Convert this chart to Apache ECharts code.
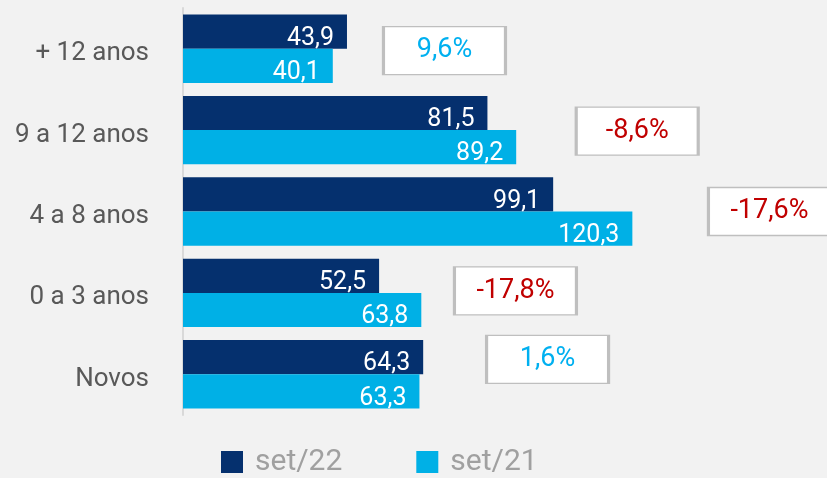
<!DOCTYPE html>
<html>
<head>
<meta charset="utf-8">
<script src="https://cdn.jsdelivr.net/npm/echarts@6/dist/echarts.min.js"></script>
<style>
  html, body { margin: 0; padding: 0; background: #f2f2f2; }
  #chart { width: 827px; height: 478px; }
</style>
</head>
<body>
<div id="chart"></div>
<script>
const categories = ['+ 12 anos', '9 a 12 anos', '4 a 8 anos', '0 a 3 anos', 'Novos'];
const seriesNames = ['set/22', 'set/21'];
const set22 = [43.9, 81.5, 99.1, 52.5, 64.3];
const set21 = [40.1, 89.2, 120.3, 63.8, 63.3];
const changePct = [9.6, -8.6, -17.6, -17.8, 1.6];

const fmt = v => v.toFixed(1).replace('.', ',');
const FONT = 'Roboto';

// annotation box placement (x in axis units, y offset in px)
const boxPlacement = [
  { x: 70.0, dy: 2 },
  { x: 121.6, dy: 1 },
  { x: 157.0, dy: 0 },
  { x: 89.0, dy: -2 },
  { x: 97.6, dy: -15 }
];

const boxData = changePct.map((c, i) => ({
  value: [boxPlacement[i].x, i],
  symbolOffset: [0, boxPlacement[i].dy],
  label: { color: c < 0 ? '#c00000' : '#00b0f0' },
  pct: c
}));

const chart = echarts.init(document.getElementById('chart'), null, { renderer: 'canvas' });
chart.setOption({
  backgroundColor: '#f2f2f2',
  animation: false,
  textStyle: { fontFamily: FONT },
  grid: { left: 183, top: 8, width: 635, height: 407 },
  legend: {
    data: seriesNames,
    left: 221,
    top: 447,
    padding: 0,
    icon: 'rect',
    itemWidth: 22,
    itemHeight: 22,
    itemGap: 74,
    textStyle: { fontSize: 30, color: '#a0a0a0', fontFamily: FONT, padding: [0, 0, 0, 7] }
  },
  xAxis: {
    type: 'value',
    min: 0,
    max: 170,
    show: false
  },
  yAxis: {
    type: 'category',
    data: categories,
    inverse: true,
    axisLine: { show: true, lineStyle: { color: '#d9d9d9', width: 2 } },
    axisTick: { show: false },
    axisLabel: {
      margin: 34,
      formatter: v => '{c|' + v + '}',
      rich: { c: { fontSize: 26, color: '#595959', fontFamily: FONT, padding: [10, 0, 0, 0] } }
    }
  },
  series: [
    {
      name: seriesNames[0],
      type: 'bar',
      data: set22,
      barGap: '0%',
      barCategoryGap: '16%',
      itemStyle: { color: '#05306e' },
      label: {
        show: true, position: 'insideRight', distance: 13, offset: [0, 7],
        color: '#ffffff', fontSize: 25, fontFamily: FONT,
        formatter: p => fmt(p.value)
      }
    },
    {
      name: seriesNames[1],
      type: 'bar',
      data: set21,
      barGap: '0%',
      barCategoryGap: '16%',
      itemStyle: { color: '#00b0e6' },
      label: {
        show: true, position: 'insideRight', distance: 13, offset: [0, 7],
        color: '#ffffff', fontSize: 25, fontFamily: FONT,
        formatter: p => fmt(p.value)
      }
    },
    {
      type: 'scatter',
      data: boxData,
      clip: false,
      z: 5,
      symbol: 'rect',
      symbolSize: [122, 48],
      itemStyle: { color: '#ffffff', borderColor: '#bfbfbf', borderWidth: 2, opacity: 1 },
      emphasis: { disabled: true },
      label: {
        show: true, position: 'inside', fontSize: 27, fontFamily: FONT,
        formatter: p => fmt(p.data.pct) + '%'
      }
    }
  ]
});
</script>
</body>
</html>
